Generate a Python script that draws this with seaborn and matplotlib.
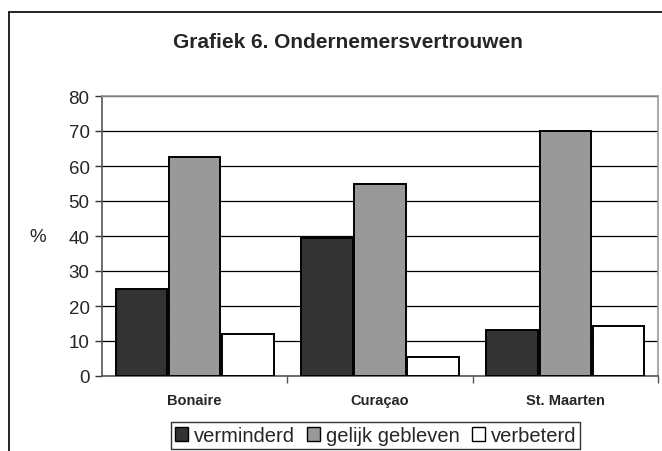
import matplotlib
matplotlib.use("Agg")
import matplotlib.pyplot as plt
import seaborn as sns
import pandas as pd
from matplotlib.patches import Patch
from matplotlib.lines import Line2D

categories = ["Bonaire", "Curaçao", "St. Maarten"]
series = ["verminderd", "gelijk gebleven", "verbeterd"]
verminderd = [25.0, 39.3, 13.2]
gelijk_gebleven = [62.7, 55.0, 70.1]
verbeterd = [12.1, 5.5, 14.3]
colors = ["#333333", "#999999", "#ffffff"]
y_ticks = [0, 10, 20, 30, 40, 50, 60, 70, 80]

rows = []
for s, vals in zip(series, [verminderd, gelijk_gebleven, verbeterd]):
    for c, v in zip(categories, vals):
        rows.append({"cat": c, "serie": s, "val": v})
df = pd.DataFrame(rows)

sns.set_theme(style="white")
plt.rcParams["font.family"] = ["Liberation Sans", "DejaVu Sans"]

fig = plt.figure(figsize=(6.62, 4.52), dpi=100)
ax = fig.add_axes([102/662, 1-377/452, (658-102)/662, (377-97)/452])

sns.barplot(data=df, x="cat", y="val", hue="serie", order=categories,
            hue_order=series, palette=colors, width=0.86, gap=0.03,
            edgecolor="black", linewidth=1.4, legend=False, ax=ax, zorder=3)

ax.set_ylim(0, 80)
ax.set_xlim(-0.5, 2.5)
ax.set_yticks(y_ticks)
ax.set_yticklabels([str(t) for t in y_ticks], fontsize=13.5)
ax.yaxis.grid(True, color="black", linewidth=0.9, zorder=0)
ax.set_axisbelow(True)
ax.set_xlabel("")
ax.set_ylabel("%", fontsize=13.5, rotation=0, va="center", ha="center")
ax.yaxis.set_label_coords((38-102)/556, 0.5)

ax.set_xticks([0, 1, 2])
ax.set_xticklabels(categories, fontsize=10.5, fontweight="bold")
ax.tick_params(axis="x", length=0, pad=12)
ax.set_xticks([0.5, 1.5, 2.5], minor=True)
ax.tick_params(axis="x", which="minor", length=5, width=1, color="#555555", direction="out", bottom=True)
ax.tick_params(axis="y", length=5, width=1, color="#333333", direction="out", left=True, pad=4)

for side in ["top", "right"]:
    ax.spines[side].set_color("#999999")
    ax.spines[side].set_linewidth(1.2)
ax.spines["left"].set_color("#555555")
ax.spines["left"].set_linewidth(1.2)
ax.spines["bottom"].set_color("#555555")
ax.spines["bottom"].set_linewidth(1.2)

fig.text(347.5/662, 1-42/452, "Grafiek 6. Ondernemersvertrouwen", ha="center", va="center",
         fontsize=15, fontweight="bold")

handles = [Patch(facecolor=c, edgecolor="black", linewidth=1.0) for c in colors]
leg = fig.legend(handles, series, loc="center", bbox_to_anchor=(375.5/662, 1-436.5/452),
                 ncol=3, fontsize=14.5, frameon=True, fancybox=False, handlelength=0.65,
                 handleheight=0.65, handletextpad=0.3, columnspacing=0.6,
                 borderpad=0.2, edgecolor="black")
leg.get_frame().set_linewidth(1.0)

fig.add_artist(Line2D([9.3/662, 9.3/662], [0, 1-12.7/452], color="black", linewidth=1.2,
                      transform=fig.transFigure))
fig.add_artist(Line2D([9.3/662, 1], [1-12.7/452, 1-12.7/452], color="black", linewidth=1.2,
                      transform=fig.transFigure))

fig.savefig("out.png", dpi=100)
